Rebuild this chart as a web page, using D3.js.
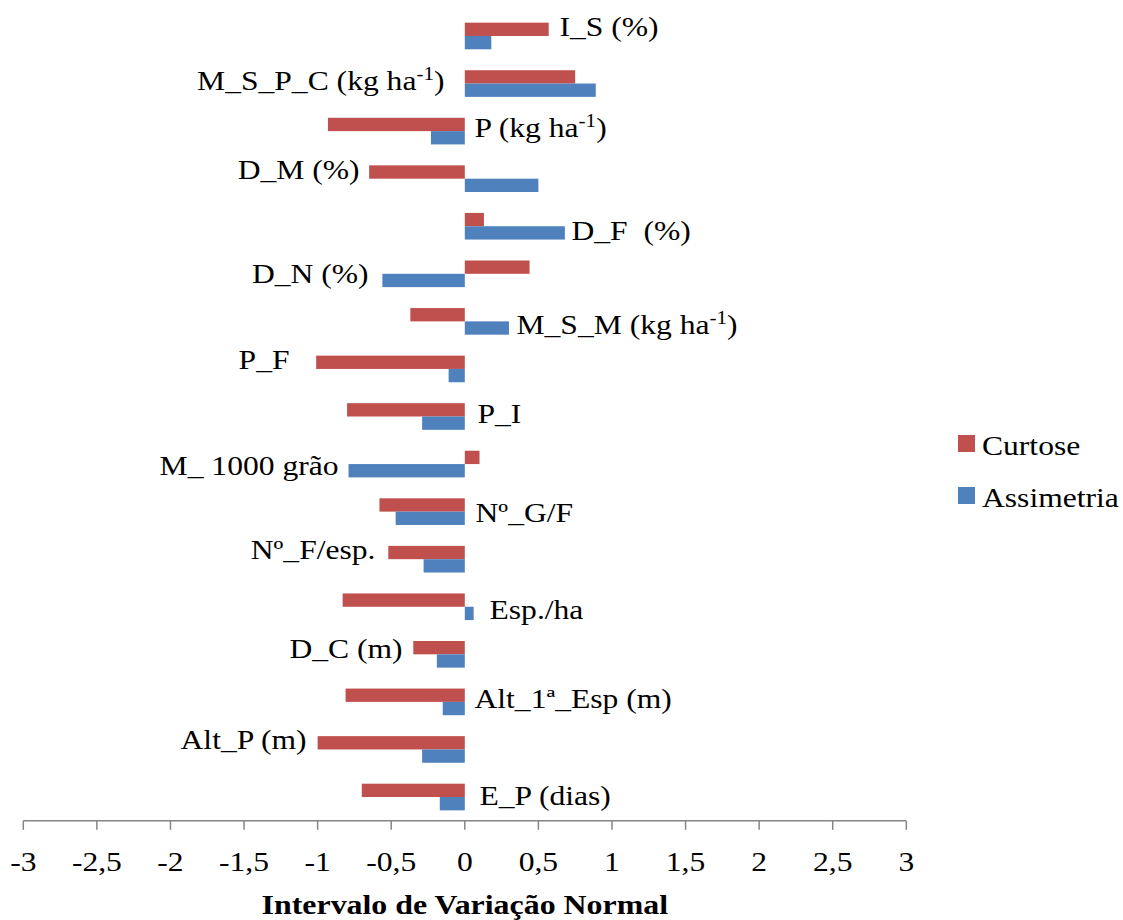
<!DOCTYPE html>
<html>
<head>
<meta charset="utf-8">
<script src="https://cdn.jsdelivr.net/npm/d3@7"></script>
<style>
  html, body { margin: 0; padding: 0; background: #ffffff; }
  svg { display: block; }
</style>
</head>
<body>
<svg id="chart" width="1123" height="920" font-family="Liberation Serif"></svg>
<script>
// Variáveis (de cima para baixo)
const categories = [
  "I_S (%)", "M_S_P_C (kg ha-1)", "P (kg ha-1)", "D_M (%)", "D_F  (%)",
  "D_N (%)", "M_S_M (kg ha-1)", "P_F", "P_I", "M_ 1000 grão",
  "Nº_G/F", "Nº_F/esp.", "Esp./ha", "D_C (m)", "Alt_1ª_Esp (m)",
  "Alt_P (m)", "E_P (dias)"
];

const seriesNames = ["Curtose", "Assimetria"];

const curtose = [
  0.57, 0.75, -0.93, -0.65, 0.13,
  0.44, -0.37, -1.01, -0.80, 0.10,
  -0.58, -0.52, -0.83, -0.35, -0.81,
  -1.00, -0.70
];

const assimetria = [
  0.18, 0.89, -0.23, 0.50, 0.68,
  -0.56, 0.30, -0.11, -0.29, -0.79,
  -0.47, -0.28, 0.06, -0.19, -0.15,
  -0.29, -0.17
];

const xTicks = [-3, -2.5, -2, -1.5, -1, -0.5, 0, 0.5, 1, 1.5, 2, 2.5, 3];
const xTitle = "Intervalo de Variação Normal";

// Posição dos rótulos das variáveis (em unidades do eixo x) e lado de ancoragem
const labelAnchorX = [
  0.643, -0.138, 0.066, -0.715, 0.725,
  -0.654, 0.351, -1.191, 0.086, -0.858,
  0.073, -0.607, 0.168, -0.423, 0.066,
  -1.075, 0.100
];
const labelSide = [
  "start", "end", "start", "end", "start",
  "end", "start", "end", "start", "end",
  "start", "end", "start", "end", "start",
  "end", "start"
];
const labelDy = [0, 6, 6, 0, 14, 9, 13, 0, 6, 11, 10, 0, 12, 4, 6, 0, 8];

const colors = { "Curtose": "#C0504D", "Assimetria": "#4F81BD" };
const textStretch = 1.17;
const fontSize = 27;

const svg = d3.select("#chart");

const x = d3.scaleLinear().domain([-3, 3]).range([23.3, 906.3]);
const y = d3.scaleBand().domain(categories).range([12.2, 820.8])
  .paddingInner(0.44).paddingOuter(0.22);
const ySub = d3.scaleBand().domain(seriesNames).range([0, y.bandwidth()]);

const rows = categories.map((c, i) => ({
  cat: c,
  values: [
    { series: "Curtose", value: curtose[i] },
    { series: "Assimetria", value: assimetria[i] }
  ]
}));

// Barras
const rowG = svg.append("g").selectAll("g").data(rows).join("g")
  .attr("transform", d => `translate(0,${y(d.cat)})`);

rowG.selectAll("rect").data(d => d.values).join("rect")
  .attr("x", d => x(Math.min(0, d.value)))
  .attr("width", d => Math.abs(x(d.value) - x(0)))
  .attr("y", d => ySub(d.series))
  .attr("height", ySub.bandwidth())
  .attr("fill", d => colors[d.series]);

// Eixo x
const axisG = svg.append("g").attr("transform", `translate(0,${y.range()[1]})`);
axisG.append("line")
  .attr("x1", x(-3)).attr("x2", x(3))
  .attr("stroke", "#868686").attr("stroke-width", 1.5);
axisG.selectAll("line.tick").data(xTicks).join("line")
  .attr("class", "tick")
  .attr("x1", d => x(d)).attr("x2", d => x(d))
  .attr("y1", 0).attr("y2", 9)
  .attr("stroke", "#868686").attr("stroke-width", 1.5);

const fmt = d => String(d).replace(".", ",");
axisG.selectAll("text").data(xTicks).join("text")
  .attr("transform", d => `translate(${x(d)},50) scale(${textStretch},1)`)
  .attr("text-anchor", "middle")
  .attr("font-size", fontSize)
  .text(fmt);

svg.append("text")
  .attr("transform", `translate(${x(0)},914) scale(1.16,1)`)
  .attr("text-anchor", "middle")
  .attr("font-size", 27.5)
  .attr("font-weight", "bold")
  .text(xTitle);

// Rótulos das variáveis, com expoente em "ha-1"
const labelG = svg.append("g");
categories.forEach((c, i) => {
  const t = labelG.append("text")
    .attr("transform",
      `translate(${x(labelAnchorX[i])},${y(c) + y.bandwidth() / 2 + labelDy[i]}) scale(${textStretch},1)`)
    .attr("text-anchor", labelSide[i])
    .attr("font-size", fontSize)
    .style("white-space", "pre");
  const m = c.match(/^(.*ha)(-1)(\).*)$/);
  if (m) {
    t.append("tspan").text(m[1]);
    t.append("tspan").attr("dy", -10).attr("font-size", 18).text(m[2]);
    t.append("tspan").attr("dy", 10).text(m[3]);
  } else {
    t.text(c);
  }
});

// Legenda
const legend = svg.append("g").selectAll("g").data(seriesNames).join("g")
  .attr("transform", (d, i) => `translate(958,${435 + i * 52})`);
legend.append("rect")
  .attr("width", 17).attr("height", 17)
  .attr("fill", d => colors[d]);
legend.append("text")
  .attr("transform", `translate(24,20) scale(${textStretch},1)`)
  .attr("font-size", 27)
  .text(d => d);
</script>
</body>
</html>
